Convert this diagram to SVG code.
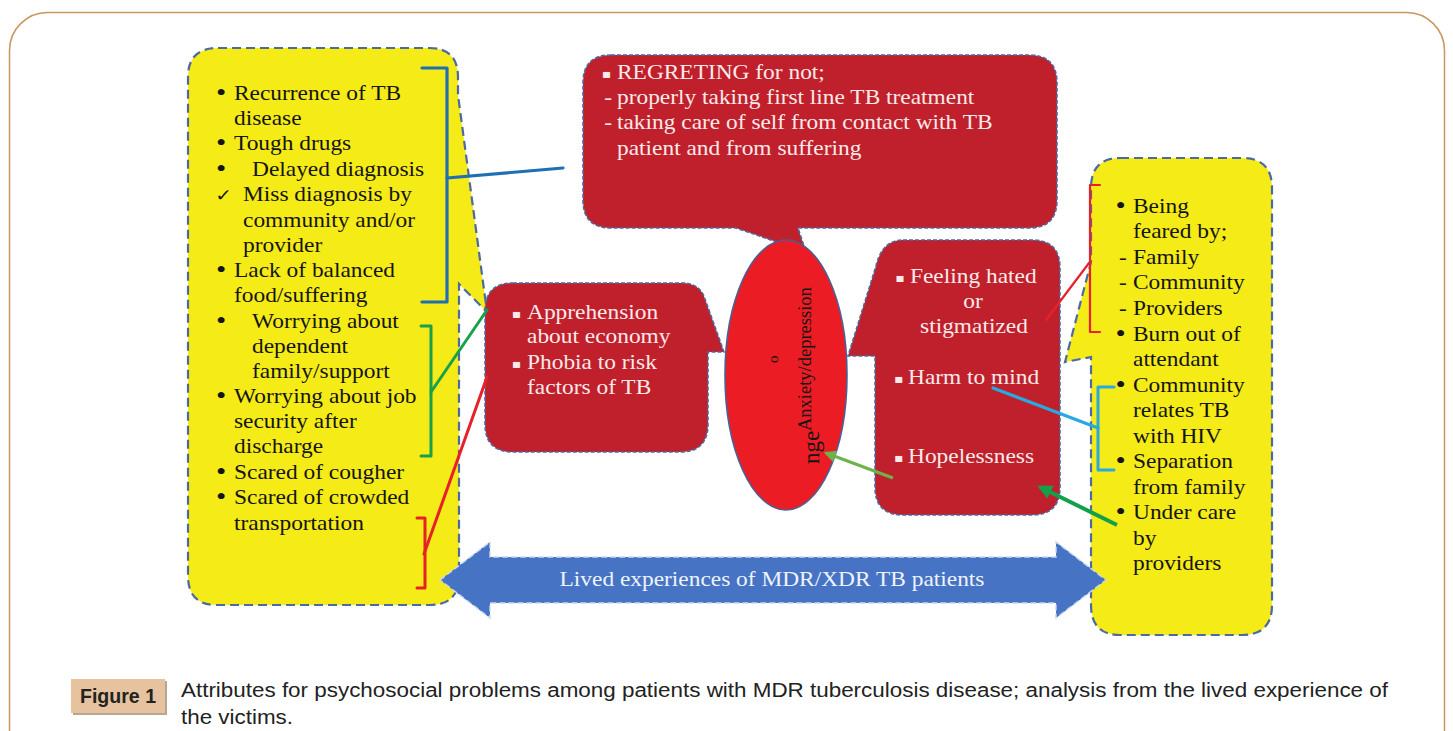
<svg xmlns="http://www.w3.org/2000/svg" width="1453" height="731" viewBox="0 0 1453 731">
<style>
.yb{fill:#f5eb16;stroke:#4a6aa0;stroke-width:2.2;stroke-dasharray:9 5}
.rb{fill:#c0202b;stroke:#4a6aa0;stroke-width:1.6;stroke-dasharray:4 2}
.t{font-family:"Liberation Serif","Times New Roman",serif;font-size:20px}
.k{fill:#141414}
.w{fill:#fbeaea}
.bu{font-family:"Liberation Serif","Times New Roman",serif;font-size:25px}
.sq{font-family:"DejaVu Sans",sans-serif;font-size:12px}
.ck{font-family:"DejaVu Sans",sans-serif;font-size:17px}
.c{fill:none;stroke-linecap:round;stroke-linejoin:round}
</style>
<defs>
<marker id="ag" viewBox="0 0 10 10" refX="8" refY="5" markerWidth="4" markerHeight="3.6" orient="auto"><path d="M0,0 L10,5 L0,10 z" fill="#13a04b"/></marker>
<marker id="alg" viewBox="0 0 10 10" refX="8" refY="5" markerWidth="4.5" markerHeight="4" orient="auto"><path d="M0,0 L10,5 L0,10 z" fill="#6db34a"/></marker>
</defs>
<rect x="9.5" y="12.5" width="1435" height="800" rx="38" fill="#ffffff" stroke="#c9965f" stroke-width="1.5"/>

<g id="left-yellow">
<path class="yb" d="M218,48 H429 Q458,48 458,77 V95 L487,312 L459,284 V576 Q459,605 430,605 H217 Q188,605 188,576 V77 Q188,48 218,48 Z"/>
<g class="t k" transform="translate(234,0) scale(1.17,1)">
<text class="bu" x="-15.5" y="101">•</text><text x="0" y="100">Recurrence of TB</text>
<text x="0" y="125">disease</text>
<text class="bu" x="-15.5" y="151">•</text><text x="0" y="150">Tough drugs</text>
<text class="bu" x="-15.5" y="177">•</text><text x="15.4" y="176">Delayed diagnosis</text>
<text class="ck" x="-16" y="201">✓</text><text x="7.7" y="201">Miss diagnosis by</text>
<text x="7.7" y="227">community and/or</text>
<text x="7.7" y="252">provider</text>
<text class="bu" x="-15.5" y="278">•</text><text x="0" y="277">Lack of balanced</text>
<text x="0" y="302">food/suffering</text>
<text class="bu" x="-15.5" y="329">•</text><text x="15.4" y="328">Worrying about</text>
<text x="15.4" y="353">dependent</text>
<text x="15.4" y="378">family/support</text>
<text class="bu" x="-15.5" y="404">•</text><text x="0" y="403">Worrying about job</text>
<text x="0" y="428">security after</text>
<text x="0" y="453">discharge</text>
<text class="bu" x="-15.5" y="480">•</text><text x="0" y="479">Scared of cougher</text>
<text class="bu" x="-15.5" y="505">•</text><text x="0" y="504">Scared of crowded</text>
<text x="0" y="530">transportation</text>
</g>
</g>

<g id="right-yellow">
<path class="yb" d="M1120,158 H1242 Q1272,158 1272,188 V605 Q1272,635 1242,635 H1120 Q1091,635 1091,605 V357 L1065,362 L1091,262 V188 Q1091,158 1120,158 Z"/>
<g class="t k" transform="translate(1133,0) scale(1.17,1)">
<text class="bu" x="-15" y="214">•</text><text x="0" y="213">Being</text>
<text x="0" y="238">feared by;</text>
<text x="-12" y="264">-</text><text x="0" y="264">Family</text>
<text x="-12" y="289">-</text><text x="0" y="289">Community</text>
<text x="-12" y="315">-</text><text x="0" y="315">Providers</text>
<text class="bu" x="-15" y="342">•</text><text x="0" y="341">Burn out of</text>
<text x="0" y="366">attendant</text>
<text class="bu" x="-15" y="393">•</text><text x="0" y="392">Community</text>
<text x="0" y="417">relates TB</text>
<text x="0" y="443">with HIV</text>
<text class="bu" x="-15" y="469">•</text><text x="0" y="468">Separation</text>
<text x="0" y="494">from family</text>
<text class="bu" x="-15" y="520">•</text><text x="0" y="519">Under care</text>
<text x="0" y="545">by</text>
<text x="0" y="570">providers</text>
</g>
</g>

<g id="top-red">
<path class="rb" d="M611,55 H1029 Q1057,55 1057,83 V200 Q1057,228 1029,228 H798 L806,252 L736,228 H611 Q583,228 583,200 V83 Q583,55 611,55 Z"/>
<g class="t w" transform="translate(617,0) scale(1.17,1)">
<text class="sq" x="-13" y="78">▪</text><text x="0" y="79">REGRETING for not;</text>
<text x="-11" y="104">-</text><text x="0" y="104">properly taking first line TB treatment</text>
<text x="-11" y="129">-</text><text x="0" y="129">taking care of self from contact with TB</text>
<text x="0" y="155">patient and from suffering</text>
</g>
</g>

<g id="left-red">
<path class="rb" d="M513,283 H682 Q700,283 705,299 L724,352 H708 V424 Q708,452 680,452 H513 Q485,452 485,424 V311 Q485,283 513,283 Z"/>
<g class="t w" transform="translate(527,0) scale(1.17,1)">
<text class="sq" x="-13" y="318">▪</text><text x="0" y="319">Apprehension</text>
<text x="0" y="343">about economy</text>
<text class="sq" x="-13" y="368">▪</text><text x="0" y="369">Phobia to risk</text>
<text x="0" y="394">factors of TB</text>
</g>
</g>

<g id="right-red">
<path class="rb" d="M903,240 H1032 Q1060,240 1060,268 V487 Q1060,515 1032,515 H903 Q875,515 875,487 V356 H848 L876,266 Q882,240 903,240 Z"/>
<g class="t w" transform="translate(908,0) scale(1.17,1)">
<text class="sq" x="-11" y="282">▪</text><text x="1.7" y="283">Feeling hated</text>
<text x="55.6" y="308" text-anchor="middle">or</text>
<text x="56.4" y="333" text-anchor="middle">stigmatized</text>
<text class="sq" x="-12" y="383">▪</text><text x="0" y="384">Harm to mind</text>
<text class="sq" x="-12" y="462">▪</text><text x="0" y="463">Hopelessness</text>
</g>
</g>

<g id="center-ellipse">
<ellipse cx="786" cy="375" rx="61" ry="135" fill="#ec1c24" stroke="#4a5f95" stroke-width="1.6"/>
<text class="k" transform="translate(778,363) rotate(-90)" style="font-family:'Liberation Serif',serif;font-size:15px">o</text>
<text class="k" transform="translate(811,431) rotate(-90)" style="font-family:'Liberation Serif',serif;font-size:18.5px">Anxiety/depression</text>
<text class="k" transform="translate(819,464) rotate(-90)" style="font-family:'Liberation Serif',serif;font-size:23px">nge</text>
</g>

<g id="banner">
<path d="M440,580 L490,542 V557 H1056 V542 L1106,580 L1056,618 V603 H490 V618 Z" fill="#4673c4" stroke="#c9d8f0" stroke-width="1.4" stroke-dasharray="6 3"/>
<text class="t" transform="translate(772,586) scale(1.17,1)" text-anchor="middle" fill="#eef3fb">Lived experiences of MDR/XDR TB patients</text>
</g>

<g id="connectors">
<path class="c" d="M422,68 H447 V302 H422" stroke="#1f6fb5" stroke-width="3.2"/>
<path class="c" d="M447,178 L563,168" stroke="#1f6fb5" stroke-width="3.2"/>
<path class="c" d="M421,326 H431 V456 H421" stroke="#19a04a" stroke-width="3"/>
<path class="c" d="M431,392 L487,310" stroke="#19a04a" stroke-width="3"/>
<path class="c" d="M417,518 H425 V588 H417" stroke="#e8202a" stroke-width="3"/>
<path class="c" d="M424,554 L487,377" stroke="#e8202a" stroke-width="3"/>
<path class="c" d="M1100,185 H1090 V332 H1100" stroke="#e8202a" stroke-width="2.2"/>
<path class="c" d="M1089,263 L1046,320" stroke="#e8202a" stroke-width="2.2"/>
<path class="c" d="M1114,387 H1098 V470 H1114" stroke="#27a9e1" stroke-width="3"/>
<path class="c" d="M993,388 L1098,428" stroke="#27a9e1" stroke-width="3.2"/>
<line x1="1117" y1="525" x2="1040" y2="487" stroke="#13a04b" stroke-width="4" marker-end="url(#ag)"/>
<line x1="893" y1="478" x2="826" y2="453" stroke="#6db34a" stroke-width="3" marker-end="url(#alg)"/>
</g>

<g id="caption">
<rect x="73" y="681" width="94" height="34" fill="#b8a690"/>
<rect x="71" y="679" width="94" height="34" fill="#e6c29e"/>
<text x="118" y="703" text-anchor="middle" textLength="76" lengthAdjust="spacingAndGlyphs" style="font-family:'Liberation Sans',sans-serif;font-size:20px;font-weight:bold" fill="#222">Figure 1</text>
<text x="181" y="697" textLength="1207" lengthAdjust="spacingAndGlyphs" style="font-family:'Liberation Sans',sans-serif;font-size:19.5px" fill="#222">Attributes for psychosocial problems among patients with MDR tuberculosis disease; analysis from the lived experience of</text>
<text x="181" y="724" textLength="112" lengthAdjust="spacingAndGlyphs" style="font-family:'Liberation Sans',sans-serif;font-size:19.5px" fill="#222">the victims.</text>
</g>
</svg>
